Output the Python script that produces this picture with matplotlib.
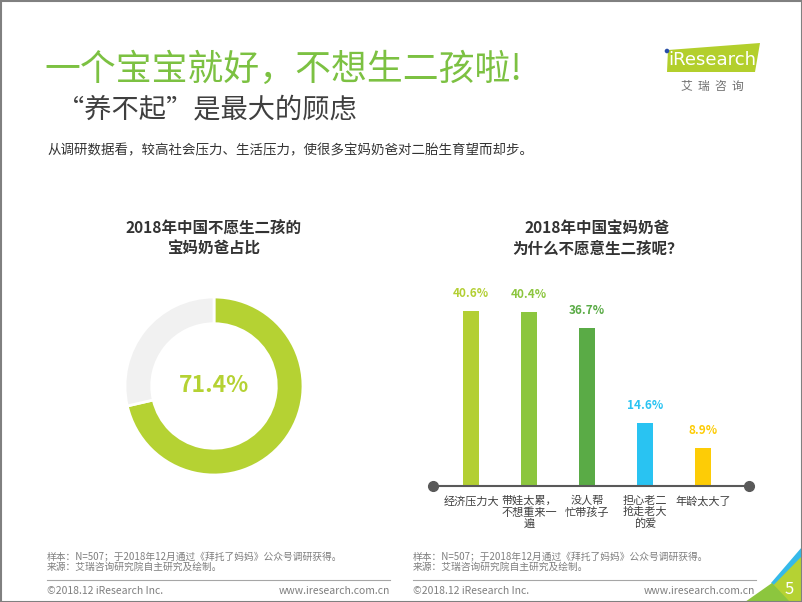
import matplotlib
matplotlib.use("Agg")
import matplotlib.pyplot as plt
from matplotlib.patches import Polygon, Rectangle, Circle

plt.rcParams['font.family'] = ['Noto Sans CJK SC', 'DejaVu Sans']

# ---- data ----
donut_labels = ["不愿生二孩", "其他"]
donut_values = [71.4, 28.6]
donut_center_label = "71.4%"

categories = ["经济压力大", "带娃太累，\n不想重来一\n遍", "没人帮\n忙带孩子", "担心老二\n抢走老大\n的爱", "年龄太大了"]
values = [40.6, 40.4, 36.7, 14.6, 8.9]
value_labels = ["40.6%", "40.4%", "36.7%", "14.6%", "8.9%"]

title = "一个宝宝就好，不想生二孩啦!"
subtitle = "“养不起”是最大的顾虑"
body = "从调研数据看，较高社会压力、生活压力，使很多宝妈奶爸对二胎生育望而却步。"
donut_title = "2018年中国不愿生二孩的\n宝妈奶爸占比"
bar_title = "2018年中国宝妈奶爸\n为什么不愿意生二孩呢？"
note1 = "样本：N=507；于2018年12月通过《拜托了妈妈》公众号调研获得。"
note2 = "来源：艾瑞咨询研究院自主研究及绘制。"
copyright_txt = "©2018.12 iResearch Inc."
site_txt = "www.iresearch.com.cn"

bar_colors = ["#b3cf33", "#8cc63e", "#5aab46", "#29c3f2", "#fdcc06"]
donut_colors = ["#b5d233", "#f1f1f1"]

W, H = 802, 602
fig = plt.figure(figsize=(W / 100, H / 100), dpi=100)
fig.patch.set_facecolor("white")

# overlay axes in pixel coords
ov = fig.add_axes([0, 0, 1, 1])
ov.set_xlim(0, W)
ov.set_ylim(H, 0)
ov.axis("off")

ov.text(44, 70, title, fontsize=25.8, color="#7cc142", va="center", ha="left")
ov.text(57, 110, subtitle, fontsize=19.6, color="#3f3f3f", va="center", ha="left")
ov.text(47, 150, body, fontsize=9.7, color="#333333", va="center", ha="left")

ov.text(214, 238, donut_title, fontsize=11.2, fontweight="bold", color="#333333",
        va="center", ha="center", linespacing=1.35)
ov.text(597, 238, bar_title, fontsize=11.2, fontweight="bold", color="#333333",
        va="center", ha="center", linespacing=1.35)

# footnotes
for x0 in (47, 413):
    ov.text(x0, 556, note1, fontsize=7, color="#7f7f7f", va="center", ha="left")
    ov.text(x0, 567, note2, fontsize=7, color="#7f7f7f", va="center", ha="left")
ov.plot([47, 390], [580, 580], color="#a6a6a6", lw=0.8)
ov.plot([413, 756], [580, 580], color="#a6a6a6", lw=0.8)
ov.text(47, 591, copyright_txt, fontsize=7.5, color="#7f7f7f", va="center", ha="left")
ov.text(390, 591, site_txt, fontsize=7.5, color="#7f7f7f", va="center", ha="right")
ov.text(413, 591, copyright_txt, fontsize=7.5, color="#7f7f7f", va="center", ha="left")
ov.text(755, 591, site_txt, fontsize=7.5, color="#7f7f7f", va="center", ha="right")

# logo
ov.add_patch(Polygon([(668, 50), (760, 43), (755, 72), (667, 72)], closed=True,
                     facecolor="#b3cf2c", edgecolor="none"))
ov.text(668, 60, "iResearch", fontsize=13, color="white", va="center", ha="left",
        family=["DejaVu Sans"])
ov.add_patch(Circle((667, 51), 2.3, facecolor="#2a4fa8", edgecolor="none", zorder=5))
ov.text(712, 86, "艾  瑞  咨  询", fontsize=8.5, color="#6f6f6f", va="center", ha="center")

# corner decoration
ov.add_patch(Polygon([(771, 583), (802, 547), (802, 570), (782, 592)], closed=True,
                     facecolor="#35b9e9", edgecolor="none"))
ov.add_patch(Polygon([(757, 602), (802, 556), (802, 602)], closed=True,
                     facecolor="#b5d233", edgecolor="none"))
ov.add_patch(Polygon([(745, 602), (772, 583), (790, 602)], closed=True,
                     facecolor="#8cc63e", edgecolor="none"))
ov.text(789, 589, "5", fontsize=12, color="white", va="center", ha="center")

# border
ov.add_patch(Rectangle((0.5, 0.5), W - 1, H - 1, fill=False, edgecolor="#808080", lw=1.5))

# ---- donut ----
cx, cy, r = 214, 386, 89
dax = fig.add_axes([(cx - r) / W, (H - cy - r) / H, 2 * r / W, 2 * r / H])
dax.pie(donut_values, colors=donut_colors, startangle=90, counterclock=False,
        radius=1, wedgeprops=dict(width=0.30, edgecolor="white", linewidth=2))
dax.set_xlim(-1, 1)
dax.set_ylim(-1, 1)
dax.set_aspect("equal")
dax.text(0, 0, donut_center_label, fontsize=16.5, fontweight="bold", color="#b5d233",
         ha="center", va="center")

# ---- bars ----
left_px, right_px, base_px, top_px = 433, 749, 486, 270.5
bax = fig.add_axes([left_px / W, (H - base_px) / H, (right_px - left_px) / W,
                    (base_px - top_px) / H])
x = list(range(len(values)))
bax.bar(x, values, width=0.29, color=bar_colors, zorder=2)
bax.set_xlim(-0.655, 4.793)
bax.set_ylim(0, 50)
bax.axis("off")
bax.plot([-0.655, 4.793], [0, 0], color="#595959", lw=1.5, zorder=3, clip_on=False)
bax.plot([-0.655, 4.793], [0, 0], ls="none", marker="o", ms=7, color="#595959",
         zorder=4, clip_on=False)
for xi, v, lab, c in zip(x, values, value_labels, bar_colors):
    bax.annotate(lab, (xi, v), xytext=(0, 8), textcoords="offset points",
                 ha="center", va="bottom", fontsize=8.5, fontweight="bold", color=c)
for xi, cat in zip(x, categories):
    bax.annotate(cat, (xi, 0), xytext=(0, -7), textcoords="offset points",
                 ha="center", va="top", fontsize=8, color="#404040", linespacing=1.15,
                 annotation_clip=False)

fig.savefig("out.png", dpi=100, facecolor="white")
